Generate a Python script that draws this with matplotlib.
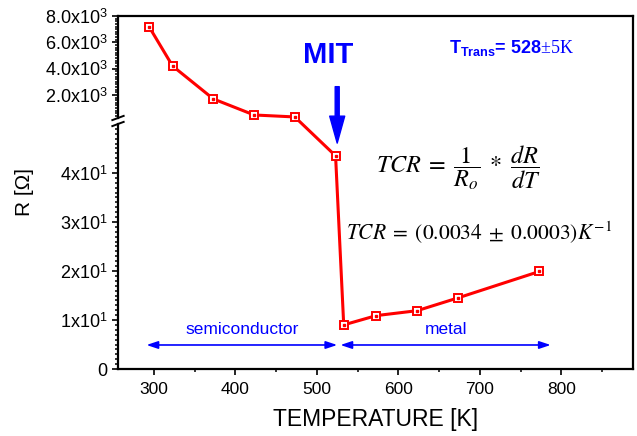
import numpy as np
import matplotlib
matplotlib.use('Agg')
import matplotlib.pyplot as plt
from matplotlib.ticker import FixedLocator, FixedFormatter
from matplotlib.patches import FancyArrowPatch

plt.rcParams['font.family'] = 'Liberation Sans'
plt.rcParams['mathtext.fontset'] = 'custom'
plt.rcParams['mathtext.rm'] = 'Liberation Serif'
plt.rcParams['mathtext.it'] = 'Liberation Serif:italic'
plt.rcParams['mathtext.bf'] = 'Liberation Sans:bold'
plt.rcParams['mathtext.sf'] = 'Liberation Sans'

# Resistance vs temperature
temperature = [294, 323, 373, 423, 473, 523, 533, 573, 623, 673, 773]
resistance = [7200, 4200, 1700, 480, 330, 43.5, 9.0, 10.9, 11.9, 14.5, 19.9]

x_major = [300, 400, 500, 600, 700, 800]
y_major = [0, 10, 20, 30, 40, 2000, 4000, 6000, 8000]
y_labels = ['0', '1x10$^{\\mathsf{1}}$', '2x10$^{\\mathsf{1}}$', '3x10$^{\\mathsf{1}}$',
            '4x10$^{\\mathsf{1}}$', '2.0x10$^{\\mathsf{3}}$', '4.0x10$^{\\mathsf{3}}$',
            '6.0x10$^{\\mathsf{3}}$', '8.0x10$^{\\mathsf{3}}$']
y_minor = [v for v in range(1, 50) if v % 10] + \
          [v for v in range(400, 8000, 200) if v % 2000]

t_transition = 528
semi_range = (291, 525)
metal_range = (529, 787)

# broken y axis: 0-50 linear, break, 250-8000 compressed on top
brk_val = [0, 50, 250, 8000]
brk_pos = [0, 245, 251, 353]
lo_slope = brk_pos[1] / brk_val[1]
hi_slope = (brk_pos[3] - brk_pos[2]) / (brk_val[3] - brk_val[2])


def fwd(y):
    y = np.asarray(y, float)
    out = np.interp(y, brk_val, brk_pos)
    out = np.where(y < 0, y * lo_slope, out)
    out = np.where(y > brk_val[-1], brk_pos[-1] + (y - brk_val[-1]) * hi_slope, out)
    return out


def inv(p):
    p = np.asarray(p, float)
    out = np.interp(p, brk_pos, brk_val)
    out = np.where(p < 0, p / lo_slope, out)
    out = np.where(p > brk_pos[-1], brk_val[-1] + (p - brk_pos[-1]) / hi_slope, out)
    return out


fig = plt.figure(figsize=(6.37, 4.36), dpi=100)
ax = fig.add_axes([118 / 637, 1 - 369 / 436, 515 / 637, 353 / 436])
ax.set_yscale('function', functions=(fwd, inv))
ax.set_xlim(256, 888)
ax.set_ylim(0, 8000)

ax.plot(temperature, resistance, color='red', lw=2.2, marker='s', ms=6.3,
        mfc='white', mec='red', mew=1.4, zorder=3)
ax.plot(temperature, resistance, ls='none', marker='s', ms=1.6, color='red', zorder=4)

# ticks
ax.xaxis.set_major_locator(FixedLocator(x_major))
ax.xaxis.set_minor_locator(FixedLocator([350, 450, 550, 650, 750, 850]))
ax.yaxis.set_major_locator(FixedLocator(y_major))
ax.yaxis.set_major_formatter(FixedFormatter(y_labels))
ax.yaxis.set_minor_locator(FixedLocator(y_minor))
ax.tick_params(which='major', direction='out', length=4.5, width=1.2, labelsize=12.5)
ax.tick_params(which='minor', direction='out', length=2.3, width=1.1)
ax.tick_params(axis='x', pad=5)
ax.tick_params(axis='y', pad=3, labelsize=13)

for s in ['top', 'right', 'bottom']:
    ax.spines[s].set_linewidth(1.6)
ax.spines['left'].set_visible(False)

# left spine with break marks
f_lo = brk_pos[1] / brk_pos[3]
f_hi = brk_pos[2] / brk_pos[3]
ax.plot([0, 0], [0, f_lo], transform=ax.transAxes, color='black', lw=1.6, clip_on=False)
ax.plot([0, 0], [f_hi, 1], transform=ax.transAxes, color='black', lw=1.6, clip_on=False)
for f in (f_lo, f_hi):
    ax.plot([-0.011, 0.011], [f - 0.006, f + 0.006], transform=ax.transAxes,
            color='black', lw=1.4, clip_on=False)

ax.set_xlabel('TEMPERATURE [K]', fontsize=16.5, labelpad=8)
ax.set_ylabel('R [Ω]', fontsize=15, labelpad=8)

# annotations
ax.text(514, 4400, 'MIT', color='blue', fontsize=21, fontweight='bold',
        ha='center', va='baseline')
ax.add_patch(FancyArrowPatch((525, 2630), (525, 46.1),
                             arrowstyle='simple,head_width=10.8,head_length=19.4,tail_width=2.9',
                             mutation_scale=1, color='blue', shrinkA=0, shrinkB=0, zorder=5))
ax.text(662, 5170, r'$\mathbf{T_{Trans}}$= %d$\mathrm{±5K}$' % t_transition,
        color='blue', fontsize=13, fontweight='bold', ha='left', va='baseline')

ax.text(673, 41.1, r'$TCR\;=\;\dfrac{1}{R_o}\;*\;\dfrac{dR}{dT}$', fontsize=17.5,
        math_fontfamily='stix', ha='center', va='center')
ax.text(699, 27.8, r'$TCR\;=\;(0.0034\;\pm\;0.0003)K^{-1}$', fontsize=15.5,
        math_fontfamily='stix', ha='center', va='center')

for (a, b), lab in ((semi_range, 'semiconductor'), (metal_range, 'metal')):
    ax.add_patch(FancyArrowPatch((a, 4.9), (b, 4.9),
                                 arrowstyle='<|-|>,head_length=0.45,head_width=0.15',
                                 mutation_scale=15, color='blue', lw=1.2,
                                 shrinkA=0, shrinkB=0))
    ax.text((a + b) / 2, 7.1, lab, color='blue', fontsize=12.5, ha='center', va='baseline')

fig.savefig('out.png', dpi=100)
